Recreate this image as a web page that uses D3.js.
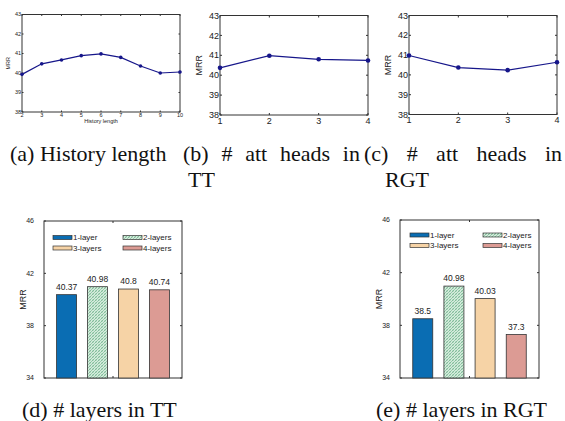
<!DOCTYPE html>
<html>
<head>
<meta charset="utf-8">
<script src="https://cdn.jsdelivr.net/npm/d3@7"></script>
<style>
  html, body { margin: 0; padding: 0; background: #fff; }
  svg { display: block; }
</style>
</head>
<body>
<svg id="fig" width="565" height="421"></svg>
<script>
// values
const historyLen = [2, 3, 4, 5, 6, 7, 8, 9, 10];
const historyMrr = [39.93, 40.47, 40.67, 40.89, 40.98, 40.8, 40.36, 40.0, 40.05];
const headCounts = [1, 2, 3, 4];
const headsTT = [40.37, 40.98, 40.8, 40.74];
const headsRGT = [40.98, 40.37, 40.24, 40.64];
const lineTicks = [38, 39, 40, 41, 42, 43];

const layerNames = ["1-layer", "2-layers", "3-layers", "4-layers"];
const layersTT = [40.37, 40.98, 40.8, 40.74];
const layersRGT = [38.5, 40.98, 40.03, 37.3];
const barTicks = [34, 38, 42, 46];

const captions = [
  ["(a) History length"],
  ["(b) # att heads in", "TT"],
  ["(c) # att heads in", "RGT"],
  ["(d) # layers in TT"],
  ["(e) # layers in RGT"]
];

const SANS = "Liberation Sans, Arial, Helvetica, sans-serif";
const SERIF = "Liberation Serif, Times New Roman, Times, serif";

const svg = d3.select("#fig");
const lineColor = "#16168a";
const axisColor = "#333";
const layerFill = ["#0a6db3", "url(#hatch)", "#f6d3a6", "#dc9b94"];

const defs = svg.append("defs");
const pat = defs.append("pattern")
  .attr("id", "hatch")
  .attr("patternUnits", "userSpaceOnUse")
  .attr("width", 3).attr("height", 3);
pat.append("rect").attr("width", 3).attr("height", 3).attr("fill", "#d4ecdc");
pat.append("path").attr("d", "M0,3 L3,0 M-1,1 L1,-1 M2,4 L4,2")
  .attr("stroke", "#78b894").attr("stroke-width", 0.9);
pat.append("path").attr("d", "M0,0 L3,3").attr("stroke", "#a9d4b8").attr("stroke-width", 0.6);

function txt(g, size) {
  return g.append("text")
    .attr("font-family", SANS).attr("font-size", size)
    .attr("fill", "#222");
}

// MATLAB style box with inward ticks on all four sides
function drawBox(g, x, y, xTicks, yTicks, tl) {
  const [x0, x1] = x.range();
  const [y0, y1] = [y.range()[1], y.range()[0]];
  g.append("rect")
    .attr("x", x0).attr("y", y0)
    .attr("width", x1 - x0).attr("height", y1 - y0)
    .attr("fill", "none").attr("stroke", axisColor).attr("stroke-width", 1);

  xTicks.forEach(t => {
    g.append("line").attr("x1", x(t)).attr("x2", x(t)).attr("y1", y1).attr("y2", y1 - tl)
      .attr("stroke", axisColor);
    g.append("line").attr("x1", x(t)).attr("x2", x(t)).attr("y1", y0).attr("y2", y0 + tl)
      .attr("stroke", axisColor);
  });
  yTicks.forEach(t => {
    g.append("line").attr("x1", x0).attr("x2", x0 + tl).attr("y1", y(t)).attr("y2", y(t))
      .attr("stroke", axisColor);
    g.append("line").attr("x1", x1).attr("x2", x1 - tl).attr("y1", y(t)).attr("y2", y(t))
      .attr("stroke", axisColor);
  });
}

function linePanel(box, xs, ys, opt) {
  const g = svg.append("g");
  const x = d3.scaleLinear().domain(d3.extent(xs)).range([box.left, box.right]);
  const y = d3.scaleLinear().domain([38, 43]).range([box.bottom, box.top]);

  drawBox(g, x, y, xs, lineTicks, opt.tick);

  lineTicks.forEach(t => {
    txt(g, opt.font)
      .attr("x", box.left - 1).attr("y", y(t))
      .attr("dy", "0.35em").attr("text-anchor", "end").text(t);
  });
  xs.forEach(t => {
    txt(g, opt.font)
      .attr("x", x(t)).attr("y", box.bottom + opt.font * 0.95)
      .attr("text-anchor", "middle").text(t);
  });

  txt(g, opt.font)
    .attr("transform", `translate(${opt.ylabX},${(box.top + box.bottom) / 2}) rotate(-90)`)
    .attr("text-anchor", "middle").text("MRR");

  if (opt.xlabel) {
    txt(g, opt.font)
      .attr("x", (box.left + box.right) / 2).attr("y", box.bottom + opt.font * 2.05)
      .attr("text-anchor", "middle").text(opt.xlabel);
  }

  const pts = xs.map((d, i) => [d, ys[i]]);
  g.append("path")
    .datum(pts)
    .attr("fill", "none").attr("stroke", lineColor).attr("stroke-width", 1.2)
    .attr("d", d3.line().x(d => x(d[0])).y(d => y(d[1])));
  g.selectAll(".pt").data(pts).enter().append("circle")
    .attr("cx", d => x(d[0])).attr("cy", d => y(d[1]))
    .attr("r", opt.r).attr("fill", lineColor);
}

function barPanel(box, vals, opt) {
  const g = svg.append("g");
  const x = d3.scalePoint().domain(layerNames).range([box.left, box.right]).padding(0.73);
  const y = d3.scaleLinear().domain([34, 46]).range([box.bottom, box.top]);
  const bw = 20;

  drawBox(g, x, y, [], barTicks, 2);
  // single centre tick on the x sides
  const xc = (box.left + box.right) / 2;
  g.append("line").attr("x1", xc).attr("x2", xc).attr("y1", box.top).attr("y2", box.top + 2).attr("stroke", axisColor);
  g.append("line").attr("x1", xc).attr("x2", xc).attr("y1", box.bottom).attr("y2", box.bottom - 2).attr("stroke", axisColor);

  barTicks.forEach(t => {
    txt(g, 7)
      .attr("x", box.left - 10).attr("y", y(t))
      .attr("dy", "0.35em").attr("text-anchor", "end").text(t);
  });

  txt(g, 9)
    .attr("transform", `translate(${box.left - 18},${(box.top + box.bottom) / 2}) rotate(-90)`)
    .attr("text-anchor", "middle").text("MRR");

  g.selectAll(".bar").data(vals).enter().append("rect")
    .attr("x", (d, i) => x(layerNames[i]) - bw / 2)
    .attr("y", d => y(d))
    .attr("width", bw)
    .attr("height", d => y(34) - y(d))
    .attr("fill", (d, i) => layerFill[i])
    .attr("stroke", "#333").attr("stroke-width", 0.8);

  vals.forEach((v, i) => {
    txt(g, 8.5)
      .attr("x", x(layerNames[i])).attr("y", y(v) - 5)
      .attr("text-anchor", "middle").text(v);
  });

  // legend, 2 x 2
  layerNames.forEach((name, i) => {
    const col = i % 2, row = Math.floor(i / 2);
    const lx = box.left + opt.legX[col];
    const ly = box.top + opt.legY + row * 10.5;
    g.append("rect")
      .attr("x", lx).attr("y", ly - 2)
      .attr("width", 19).attr("height", 4)
      .attr("fill", layerFill[i]).attr("stroke", "#333").attr("stroke-width", 0.7);
    txt(g, 8)
      .attr("x", lx + 20).attr("y", ly).attr("dy", "0.35em").text(name);
  });
}

linePanel({ left: 22, right: 180, top: 14.5, bottom: 112 }, historyLen, historyMrr,
  { font: 5.5, tick: 1.5, ylabX: 10, xlabel: "History length", r: 1.8 });
linePanel({ left: 220, right: 368, top: 15.5, bottom: 115 }, headCounts, headsTT,
  { font: 9, tick: 2, ylabX: 202, r: 2.3 });
linePanel({ left: 409, right: 557, top: 15.5, bottom: 114.5 }, headCounts, headsRGT,
  { font: 9, tick: 2, ylabX: 391, r: 2.3 });

barPanel({ left: 44, right: 182, top: 221, bottom: 378 }, layersTT, { legX: [9, 79], legY: 16.5 });
barPanel({ left: 400, right: 539, top: 220, bottom: 378 }, layersRGT, { legX: [10, 83], legY: 15 });

// sub-figure captions; the wrapped ones are justified to their column width
const capPos = [
  { x: 10, y: 161 },
  { x: 183, y: 161, w: 177, x2: 188 },
  { x: 364, y: 161, w: 198, x2: 385 },
  { x: 22, y: 417 },
  { x: 376, y: 417 }
];
captions.forEach((lines, i) => {
  const p = capPos[i];
  const t = svg.append("text")
    .attr("x", p.x).attr("y", p.y)
    .attr("font-family", SERIF).attr("font-size", 22)
    .attr("fill", "#111").text(lines[0]);
  if (p.w) {
    const natural = t.node().getComputedTextLength();
    const gaps = lines[0].split(" ").length - 1;
    t.attr("word-spacing", Math.max(0, (p.w - natural) / gaps));
  }
  if (lines[1]) {
    svg.append("text")
      .attr("x", p.x2).attr("y", p.y + 26)
      .attr("font-family", SERIF).attr("font-size", 22)
      .attr("fill", "#111").text(lines[1]);
  }
});
</script>
</body>
</html>
